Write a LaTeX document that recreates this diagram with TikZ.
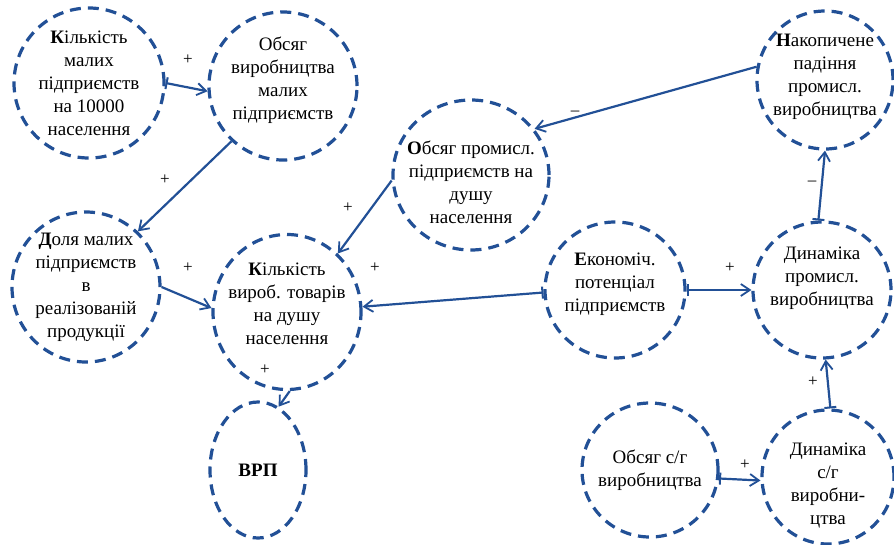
\documentclass[tikz,border=0pt]{standalone}
\usepackage{fontspec}
\setmainfont{Liberation Serif}
\newfontfamily\tnr{Liberation Serif}
\usetikzlibrary{shapes.geometric,arrows.meta}
\definecolor{cblue}{RGB}{34,80,150}
\begin{document}
\begin{tikzpicture}[x=1pt,y=-1pt,
  bub/.style={ellipse, draw=cblue, line width=3.2pt, dash pattern=on 11pt off 7pt, inner sep=0pt},
  txt/.style={align=center, font=\tnr\fontsize{19}{23}\selectfont, text=black, inner sep=0pt},
  sgn/.style={font=\tnr\fontsize{17}{17}\selectfont, inner sep=0pt},
  con/.style={draw=cblue, line width=2.2pt, -{Straight Barb[length=9pt,width=12pt,line width=1.8pt]}},
  conb/.style={draw=cblue, line width=2.2pt, {Bar[width=12pt,line width=2pt]}-{Straight Barb[length=9pt,width=12pt,line width=1.8pt]}}
]
\useasboundingbox (0,0) rectangle (894,544);

\node[bub, minimum width=150pt, minimum height=150pt,
  label={[txt]center:\textbf{К}ількість\\малих\\підприємств\\на 10000\\населення}] (n1) at (89,83) {};
\node[bub, minimum width=148pt, minimum height=148pt,
  label={[txt,yshift=6pt]center:Обсяг\\виробництва\\малих\\підприємств}] (n2) at (283,86) {};
\node[bub, minimum width=148pt, minimum height=150pt,
  label={[txt]center:\textbf{Д}оля малих\\підприємств\\в\\реалізованій\\продукції}] (n3) at (86,287) {};
\node[bub, minimum width=148pt, minimum height=155pt,
  label={[txt,yshift=8pt]center:\textbf{К}ількість\\вироб. товарів\\на душу\\населення}] (n4) at (287,312) {};
\node[bub, minimum width=96pt, minimum height=136pt,
  label={[txt]center:\textbf{ВРП}}] (n5) at (258,470) {};
\node[bub, minimum width=156pt, minimum height=150pt,
  label={[txt,yshift=-7pt]center:\textbf{О}бсяг промисл.\\підприємств на\\душу\\населення}] (n6) at (471,175) {};
\node[bub, minimum width=140pt, minimum height=136pt,
  label={[txt,yshift=6pt]center:\textbf{Е}кономіч.\\потенціал\\підприємств}] (n7) at (615,290) {};
\node[bub, minimum width=138pt, minimum height=136pt,
  label={[txt,yshift=12pt]center:Динаміка\\промисл.\\виробництва}] (n8) at (822,290) {};
\node[bub, minimum width=136pt, minimum height=138pt,
  label={[txt,yshift=3pt]center:\textbf{Н}акопичене\\падіння\\промисл.\\виробництва}] (n9) at (825,80) {};
\node[bub, minimum width=136pt, minimum height=134pt,
  label={[txt]center:Обсяг с/г\\виробництва}] (n10) at (650,470) {};
\node[bub, minimum width=132pt, minimum height=134pt,
  label={[txt,yshift=-9pt]center:Динаміка\\с/г\\виробни-\\цтва}] (n11) at (828,477) {};

% connectors
\draw[conb] (n1.0) -- (n2.184);
\draw[con] (n2.227) -- (n3.47);
\draw[con] (n3.0) -- (n4.177);
\draw[con] (n6.184) -- (n4.49);
\draw[conb] (n7.182) -- (n4.4);
\draw[con] (n4.272) -- (n5.72);
\draw[con] (n9.169) -- (n6.36);
\draw[conb] (n8.93) -- (n9.270);
\draw[conb] (n7.0) -- (n8.180);
\draw[conb] (n11.88) -- (n8.273);
\draw[conb] (n10.353) -- (n11.183);

% signs
\node[sgn] (s1) at (188,60) {+};
\node[sgn] (s2) at (165,180) {+};
\node[sgn] (s3) at (188,268) {+};
\node[sgn] (s4) at (348,208) {+};
\node[sgn] (s5) at (375,268) {+};
\node[sgn] (s6) at (265,370) {+};
\node[sgn] (s7) at (575,113) {–};
\node[sgn] (s8) at (812,183) {–};
\node[sgn] (s9) at (730,268) {+};
\node[sgn] (s10) at (813,382) {+};
\node[sgn] (s11) at (745,465) {+};
\end{tikzpicture}
\end{document}
